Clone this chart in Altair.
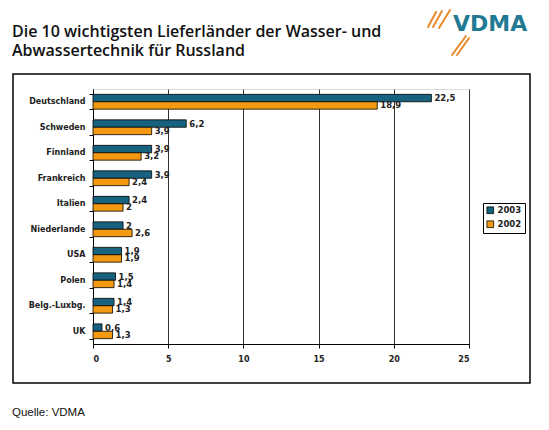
import altair as alt
import pandas as pd

countries = ["Deutschland", "Schweden", "Finnland", "Frankreich", "Italien",
             "Niederlande", "USA", "Polen", "Belg.-Luxbg.", "UK"]
v2003 = [22.5, 6.2, 3.9, 3.9, 2.4, 2.0, 1.9, 1.5, 1.4, 0.6]
v2002 = [18.9, 3.9, 3.2, 2.4, 2.0, 2.6, 1.9, 1.4, 1.3, 1.3]
years = ["2003", "2002"]
x_ticks = [0, 5, 10, 15, 20, 25]
title_lines = ["Die 10 wichtigsten Lieferländer der Wasser- und",
               "Abwassertechnik für Russland"]
source_text = "Quelle: VDMA"
logo_text = "VDMA"

rows = []
for c, a, b in zip(countries, v2003, v2002):
    for yr, v in ((years[0], a), (years[1], b)):
        rows.append({"Land": c, "Jahr": yr, "Wert": v,
                     "Label": f"{v:g}".replace(".", ",")})
df = pd.DataFrame(rows)

FONT = "DejaVu Sans"
TEAL = "#17627E"
ORANGE = "#F39A12"

base = alt.Chart(df).encode(
    y=alt.Y("Land:N", sort=countries,
            scale=alt.Scale(paddingInner=0.42, paddingOuter=0.21),
            axis=alt.Axis(title=None, tickBand="extent", tickSize=4,
                          tickColor="black", domainColor="black",
                          labelFont=FONT, labelFontSize=8, labelFontWeight="bold",
                          labelColor="#222", labelPadding=4)),
    yOffset=alt.YOffset("Jahr:N", sort=years),
)

bars = base.mark_bar(stroke="black", strokeWidth=0.8).encode(
    x=alt.X("Wert:Q", scale=alt.Scale(domain=[0, 25], nice=False),
            axis=alt.Axis(title=None, values=x_ticks, grid=True, gridColor="#333",
                          gridWidth=1, tickSize=4, tickColor="black",
                          domainColor="black", labelFont=FONT, labelFontSize=8,
                          labelFontWeight="bold", labelColor="#222",
                          labelPadding=7)),
    color=alt.Color("Jahr:N", sort=years,
                    scale=alt.Scale(domain=years, range=[TEAL, ORANGE]),
                    legend=alt.Legend(title=None, orient="none", legendX=390,
                                      legendY=114, strokeColor="black",
                                      padding=3, symbolType="square",
                                      symbolSize=45, symbolStrokeColor="black",
                                      symbolStrokeWidth=0.8, labelFont=FONT,
                                      labelFontSize=8.5, labelFontWeight="bold",
                                      labelColor="#222", rowPadding=3,
                                      labelOffset=3)),
)

labels = base.mark_text(align="left", baseline="middle", dx=3, font=FONT,
                        fontSize=8.5, fontWeight="bold", color="#222").encode(
    x=alt.X("Wert:Q"), text="Label:N")

one = pd.DataFrame({"a": [0]})

box = alt.Chart(one).mark_rect(fill=None, stroke="black", strokeWidth=1.5).encode(
    x=alt.value(-80), x2=alt.value(437), y=alt.value(-15), y2=alt.value(294))

t1 = alt.Chart(one).mark_text(text=title_lines[0], align="left", baseline="alphabetic",
                              font="Open Sans", fontSize=16, fontWeight=600,
                              color="#111").encode(x=alt.value(-81), y=alt.value(-52))
t2 = alt.Chart(one).mark_text(text=title_lines[1], align="left", baseline="alphabetic",
                              font="Open Sans", fontSize=16, fontWeight=600,
                              color="#111").encode(x=alt.value(-81), y=alt.value(-33))
src = alt.Chart(one).mark_text(text=source_text, align="left", baseline="alphabetic",
                               font="Liberation Sans", fontSize=11.5,
                               color="#111").encode(x=alt.value(-81), y=alt.value(327))
logo = alt.Chart(one).mark_text(text=logo_text, align="left", baseline="alphabetic",
                                font=FONT, fontSize=22, fontWeight="bold",
                                color="#1F7A92").encode(x=alt.value(360), y=alt.value(-58))

# decorative swooshes of the logo
sw = pd.DataFrame({
    "x1": [335, 340, 346, 359, 364],
    "y1": [-62, -62, -61, -34, -34],
    "x2": [343, 349, 357, 373, 376],
    "y2": [-77, -78, -79, -53, -51],
})
swoosh = alt.Chart(sw).mark_rule(color="#E8892B", strokeWidth=2, strokeCap="round").encode(
    x=alt.X("x1:Q", scale=None), y=alt.Y("y1:Q", scale=None),
    x2="x2:Q", y2="y2:Q")

chart = alt.layer(bars, labels, box, t1, t2, src, logo, swoosh).properties(
    width=376, height=255,
    autosize=alt.AutoSizeParams(type="none"),
    padding={"left": 85, "top": 81, "right": 68, "bottom": 76},
).configure_view(stroke="#888", strokeWidth=1).configure(background="white")

chart.save("out.html", embed_options={"renderer": "svg", "actions": False})
